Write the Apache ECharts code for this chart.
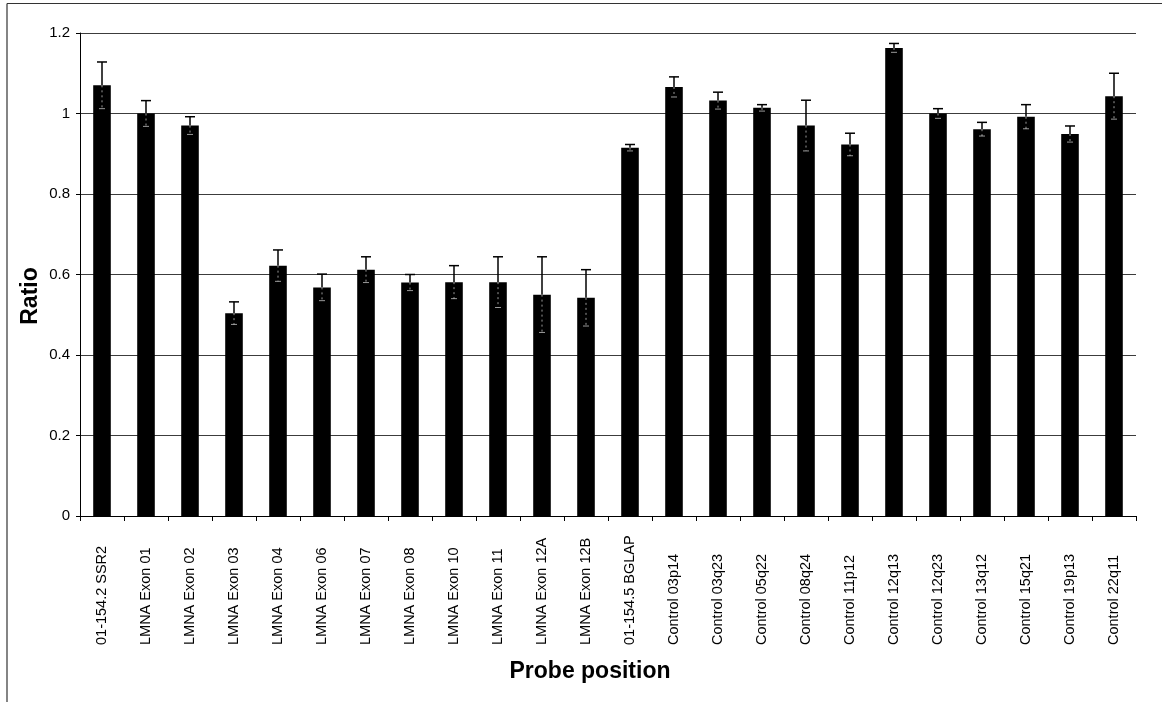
<!DOCTYPE html>
<html>
<head>
<meta charset="utf-8">
<title>Probe position ratios</title>
<script src="https://cdn.jsdelivr.net/npm/echarts@6/dist/echarts.min.js"></script>
<style>
  html, body { margin: 0; padding: 0; background: #fff; }
  #chart { width: 1162px; height: 702px; }
</style>
</head>
<body>
<div id="chart"></div>
<script>
// Probe names along the x axis
const categories = [
  '01-154.2 SSR2', 'LMNA Exon 01', 'LMNA Exon 02', 'LMNA Exon 03', 'LMNA Exon 04',
  'LMNA Exon 06', 'LMNA Exon 07', 'LMNA Exon 08', 'LMNA Exon 10', 'LMNA Exon 11',
  'LMNA Exon 12A', 'LMNA Exon 12B', '01-154.5 BGLAP', 'Control 03p14', 'Control 03q23',
  'Control 05q22', 'Control 08q24', 'Control 11p12', 'Control 12q13', 'Control 12q23',
  'Control 13q12', 'Control 15q21', 'Control 19p13', 'Control 22q11'
];

// Mean ratio per probe
const ratios = [
  1.07, 1.00, 0.97, 0.504, 0.622,
  0.568, 0.612, 0.580, 0.581, 0.581,
  0.550, 0.542, 0.915, 1.066, 1.032,
  1.014, 0.970, 0.923, 1.163, 1.00,
  0.961, 0.992, 0.949, 1.043
];

// Standard deviation (error bar half-length) per probe
const errors = [
  0.058, 0.032, 0.022, 0.028, 0.039,
  0.033, 0.032, 0.020, 0.041, 0.063,
  0.094, 0.070, 0.008, 0.025, 0.021,
  0.008, 0.063, 0.028, 0.011, 0.012,
  0.017, 0.030, 0.020, 0.057
];

// Y axis ticks
const yMin = 0;
const yMax = 1.2;
const yStep = 0.2;

const FONT = '"Liberation Sans", Arial, sans-serif';

const errorData = categories.map((c, i) => [i, ratios[i], errors[i]]);

const chart = echarts.init(document.getElementById('chart'), null, { renderer: 'canvas' });

chart.setOption({
  animation: false,
  backgroundColor: '#fff',
  grid: { left: 80, right: 26, top: 33, bottom: 186, containLabel: false },
  xAxis: {
    type: 'category',
    data: categories,
    axisLine: { show: true, lineStyle: { color: '#000', width: 1 } },
    axisTick: { show: true, length: 5, lineStyle: { color: '#000' } },
    axisLabel: {
      rotate: 90,
      align: 'left',
      verticalAlign: 'middle',
      margin: 129,
      color: '#000',
      fontFamily: FONT,
      fontSize: 14.5,
      interval: 0
    },
    splitLine: { show: false }
  },
  yAxis: {
    type: 'value',
    min: yMin,
    max: yMax,
    interval: yStep,
    axisLine: { show: true, lineStyle: { color: '#000', width: 1 } },
    axisTick: { show: true, length: 4, lineStyle: { color: '#000' } },
    axisLabel: { color: '#000', fontFamily: FONT, fontSize: 15, margin: 10 },
    splitLine: { show: true, lineStyle: { color: '#3c3c3c', width: 1 } }
  },
  series: [
    {
      type: 'bar',
      data: ratios,
      barWidth: '40%',
      itemStyle: { color: '#000' },
      silent: true,
      z: 2
    },
    {
      type: 'custom',
      data: errorData,
      encode: { x: 0, y: 1 },
      silent: true,
      z: 3,
      renderItem(params, api) {
        const i = api.value(0);
        const v = api.value(1);
        const e = api.value(2);
        const top = api.coord([i, v + e]);
        const mid = api.coord([i, v]);
        const bot = api.coord([i, v - e]);
        const cap = 5;
        return {
          type: 'group',
          children: [
            {
              type: 'line',
              shape: { x1: top[0], y1: top[1], x2: mid[0], y2: mid[1] },
              style: { stroke: '#000', lineWidth: 1.5 }
            },
            {
              type: 'line',
              shape: { x1: top[0] - cap, y1: top[1], x2: top[0] + cap, y2: top[1] },
              style: { stroke: '#000', lineWidth: 1.5 }
            },
            {
              type: 'line',
              shape: { x1: mid[0], y1: mid[1], x2: bot[0], y2: bot[1] },
              style: { stroke: '#fff', lineWidth: 1, opacity: 0.6, lineDash: [2, 3] }
            },
            {
              type: 'line',
              shape: { x1: bot[0] - 3, y1: bot[1], x2: bot[0] + 3, y2: bot[1] },
              style: { stroke: '#fff', lineWidth: 1, opacity: 0.6 }
            }
          ]
        };
      }
    }
  ],
  graphic: [
    // outer frame (top and left edges)
    { type: 'line', shape: { x1: 7, y1: 3.5, x2: 1162, y2: 3.5 }, style: { stroke: '#333', lineWidth: 1.2 } },
    { type: 'line', shape: { x1: 7, y1: 3.5, x2: 7, y2: 702 }, style: { stroke: '#333', lineWidth: 1.2 } },
    // axis titles
    {
      type: 'text',
      x: 31, y: 296,
      rotation: Math.PI / 2,
      style: {
        text: 'Ratio',
        fill: '#000',
        font: 'bold 23px ' + FONT,
        align: 'center',
        verticalAlign: 'middle'
      }
    },
    {
      type: 'text',
      x: 590, y: 672,
      style: {
        text: 'Probe position',
        fill: '#000',
        font: 'bold 23px ' + FONT,
        align: 'center',
        verticalAlign: 'middle'
      }
    }
  ]
});
</script>
</body>
</html>
